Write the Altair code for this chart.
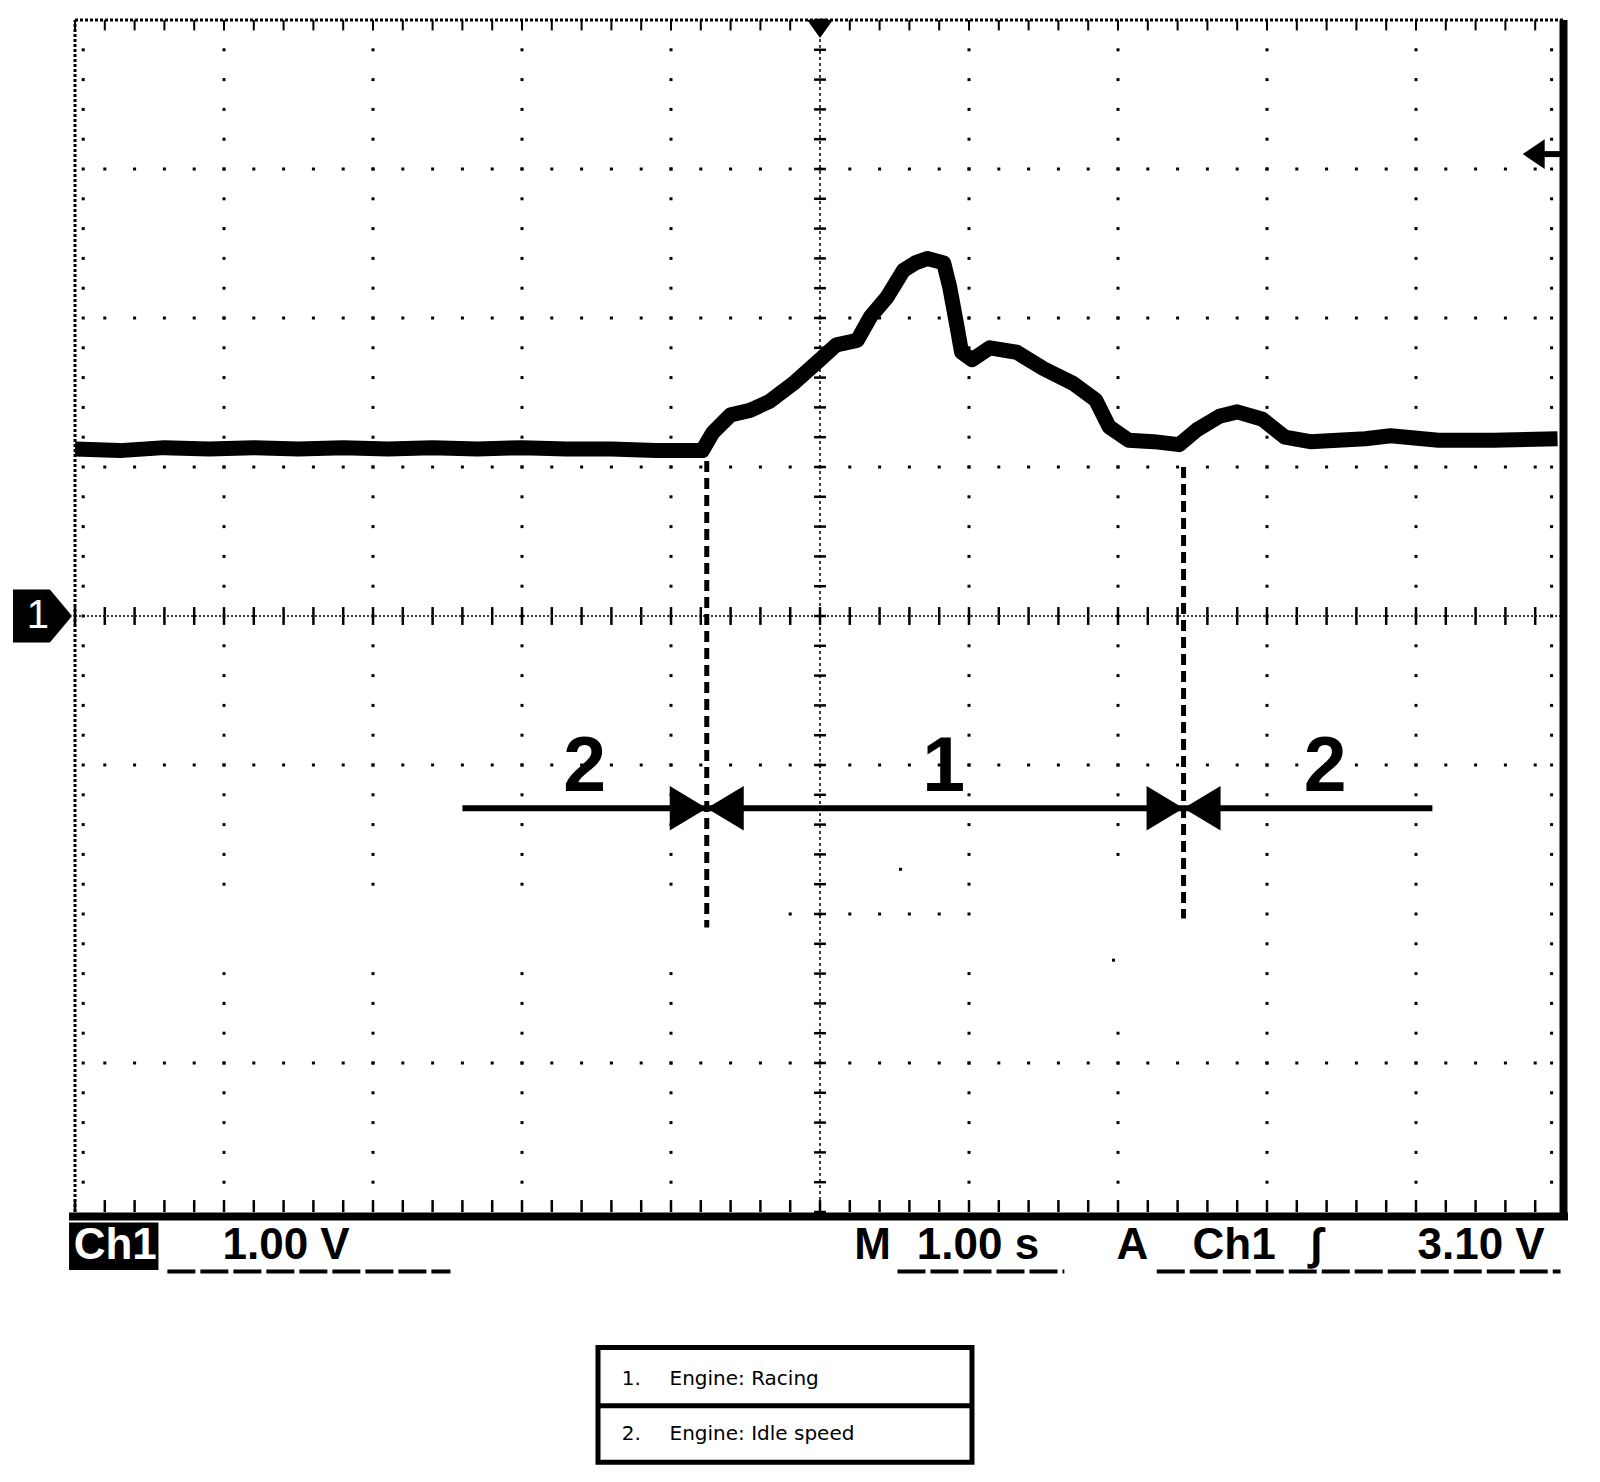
import altair as alt
import numpy as np
import pandas as pd

# Ch1 trace: time in divisions (1.00 s/div), level in volts (1.00 V/div)
trace_t = [0.0, 0.3, 0.6, 0.9, 1.2, 1.5, 1.8, 2.1, 2.4, 2.7, 3.0, 3.3, 3.6, 3.9, 4.21,
           4.28, 4.40, 4.53, 4.66, 4.82, 5.00, 5.11, 5.25, 5.34, 5.45, 5.56, 5.64, 5.72,
           5.83, 5.87, 5.92, 5.95, 6.02, 6.14, 6.32, 6.50, 6.70, 6.85, 6.94, 7.07, 7.24,
           7.41, 7.53, 7.68, 7.80, 7.97, 8.12, 8.29, 8.66, 8.83, 9.15, 9.52, 9.95]
trace_v = [1.12, 1.11, 1.13, 1.12, 1.13, 1.12, 1.13, 1.12, 1.13, 1.12, 1.13, 1.12, 1.12, 1.11, 1.11,
           1.23, 1.35, 1.38, 1.44, 1.56, 1.72, 1.82, 1.85, 2.01, 2.14, 2.32, 2.37, 2.40,
           2.37, 2.21, 1.94, 1.77, 1.72, 1.80, 1.77, 1.66, 1.56, 1.45, 1.27, 1.18, 1.17,
           1.15, 1.25, 1.34, 1.37, 1.32, 1.20, 1.17, 1.19, 1.21, 1.18, 1.18, 1.19]

# phase boundaries and labels
boundary_t = [4.24, 7.44]
boundary_top = [1.04, 1.0]
boundary_bottom = [-2.09, -2.03]
phase_labels = ["2", "1", "2"]
phase_label_t = [3.42, 5.83, 8.39]
arrow_span = [2.60, 9.11]

trigger_level = 3.10

legend_nums = ["1.", "2."]
legend_texts = ["Engine: Racing", "Engine: Idle speed"]

readout_texts = ["1.00 V", "M", "1.00 s", "A", "Ch1", "\u222b", "3.10 V"]
readout_t = [0.99, 5.23, 5.65, 6.99, 7.50, 8.29, 9.01]

XS = alt.Scale(domain=[0, 10], nice=False, zero=False)
YS = alt.Scale(domain=[-4, 4], nice=False, zero=False)


def X(f):
    return alt.X(f + ":Q", scale=XS, axis=None)


def Y(f):
    return alt.Y(f + ":Q", scale=YS, axis=None)


def rules(df, **kw):
    enc = {"x": X("t"), "y": Y("v")}
    if "t2" in df:
        enc["x2"] = alt.X2("t2:Q")
    if "v2" in df:
        enc["y2"] = alt.Y2("v2:Q")
    return alt.Chart(df).mark_rule(color="black", **kw).encode(**enc)


# graticule: dots every 0.2 div along each division line
steps_t = np.round(np.arange(0, 10.001, 0.2), 2)
steps_v = np.round(np.arange(-4, 4.001, 0.2), 2)
dots = []
for gx in [1, 2, 3, 4, 6, 7, 8, 9]:
    for v in steps_v[1:-1]:
        # part of the screen around the -2 V line is blanked in the original
        if v in (-2.0, -2.2) and gx <= 7:
            continue
        if gx == 7 and -2.6 <= v <= -1.8:
            continue
        dots.append((gx, v))
for gv in [-3, -1, 1, 2, 3]:
    dots += [(t, gv) for t in steps_t[1:-1]]
dots += [(t, -2.0) for t in steps_t if 4.75 < t < 6.05]
dots += [(6.97, -2.31), (5.54, -1.70)]
dots += [(0.055, v) for v in steps_v[1:-1]]
dots += [(9.91, v) for v in steps_v[1:-1]]
dots_df = pd.DataFrame(dots, columns=["t", "v"])
grid = alt.Chart(dots_df).mark_square(color="black", size=9, opacity=1).encode(x=X("t"), y=Y("v"))

center_h = rules(pd.DataFrame({"t": [0], "t2": [10], "v": [0]}), strokeWidth=1.5, strokeDash=[2, 2])
center_v = rules(pd.DataFrame({"t": [5], "v": [-4], "v2": [4]}), strokeWidth=1.5, strokeDash=[3, 3])
ticks_h = rules(pd.DataFrame({"t": steps_t, "v": -0.06, "v2": 0.06}), strokeWidth=2.5)
ticks_v = rules(pd.DataFrame({"t": 4.96, "t2": 5.04, "v": steps_v}), strokeWidth=2.5)
ticks_top = rules(pd.DataFrame({"t": steps_t, "v": 4.0, "v2": 3.93}), strokeWidth=2)
ticks_bot = rules(pd.DataFrame({"t": steps_t, "v": -4.0, "v2": -3.92}), strokeWidth=2.5)

border_top = rules(pd.DataFrame({"t": [0], "t2": [10], "v": [4]}), strokeWidth=3, strokeDash=[3, 2])
border_left = rules(pd.DataFrame({"t": [0], "v": [-4], "v2": [4]}), strokeWidth=3, strokeDash=[3, 2])
border_right = rules(pd.DataFrame({"t": [9.99], "v": [-4.03], "v2": [4]}), strokeWidth=8)
border_bot = rules(pd.DataFrame({"t": [-0.04], "t2": [10.02], "v": [-4.03]}), strokeWidth=8)

trace = alt.Chart(pd.DataFrame({"t": trace_t, "v": trace_v})).mark_line(
    color="black", strokeWidth=15, strokeJoin="round"
).encode(x=X("t"), y=Y("v"), order="t:Q")

# markers: ground level, trigger position, trigger level
ground = alt.Chart(pd.DataFrame({"t": [-0.218], "v": [0]})).mark_point(
    shape="M-1,-0.9 L0.25,-0.9 L1,0 L0.25,0.9 L-1,0.9 Z", size=3481,
    filled=True, color="black", opacity=1
).encode(x=X("t"), y=Y("v"))
ground_txt = alt.Chart(pd.DataFrame({"t": [-0.25], "v": [0], "s": ["1"]})).mark_text(
    color="white", font="Liberation Sans", fontSize=40, baseline="middle", align="center"
).encode(x=X("t"), y=Y("v"), text="s:N")
trig_pos = alt.Chart(pd.DataFrame({"t": [5], "v": [3.94]})).mark_point(
    shape="M-1,-0.7 L1,-0.7 L0,0.7 Z", size=676, filled=True, color="black", opacity=1
).encode(x=X("t"), y=Y("v"))
trig_head = alt.Chart(pd.DataFrame({"t": [9.79], "v": [trigger_level]})).mark_point(
    shape="M-1,0 L1,-1.36 L1,1.36 Z", size=484, filled=True, color="black", opacity=1
).encode(x=X("t"), y=Y("v"))
trig_shaft = rules(pd.DataFrame({"t": [9.8], "t2": [10], "v": [trigger_level]}), strokeWidth=6)

# phase annotations
bounds = rules(pd.DataFrame({"t": boundary_t, "v": boundary_top, "v2": boundary_bottom}),
               strokeWidth=5, strokeDash=[11, 6])
arrow_v = -1.29
arrow_line = rules(pd.DataFrame({"t": [arrow_span[0]], "t2": [arrow_span[1]], "v": [arrow_v]}), strokeWidth=6)
heads_r = alt.Chart(pd.DataFrame({"t": boundary_t, "v": arrow_v})).mark_point(
    shape="M0,0 L-2,-1.2 L-2,1.2 Z", size=1369, filled=True, color="black", opacity=1
).encode(x=X("t"), y=Y("v"))
heads_l = alt.Chart(pd.DataFrame({"t": boundary_t, "v": arrow_v})).mark_point(
    shape="M0,0 L2,-1.2 L2,1.2 Z", size=1369, filled=True, color="black", opacity=1
).encode(x=X("t"), y=Y("v"))
phase_txt = alt.Chart(pd.DataFrame({"t": phase_label_t, "v": -1.01, "s": phase_labels})).mark_text(
    color="black", font="Liberation Sans", fontSize=77, fontWeight="bold",
    baseline="middle", align="center", dy=2
).encode(x=X("t"), y=Y("v"), text="s:N")

# readout row under the screen
ch_box = alt.Chart(pd.DataFrame({"t": [-0.04], "t2": [0.56], "v": [-4.07], "v2": [-4.39]})).mark_rect(
    color="black"
).encode(x=X("t"), x2="t2:Q", y=Y("v"), y2="v2:Q")
ch_txt = alt.Chart(pd.DataFrame({"t": [0.27], "v": [-4.23], "s": ["Ch1"]})).mark_text(
    color="white", font="Liberation Sans", fontSize=44, fontWeight="bold", baseline="middle", align="center"
).encode(x=X("t"), y=Y("v"), text="s:N")
readout = alt.Chart(pd.DataFrame({"t": readout_t, "v": -4.23, "s": readout_texts})).mark_text(
    color="black", font="Liberation Sans", fontSize=44, fontWeight="bold", baseline="middle", align="left"
).encode(x=X("t"), y=Y("v"), text="s:N")
underline = rules(pd.DataFrame({"t": [0.62, 5.52, 7.26], "t2": [2.52, 6.64, 9.97], "v": -4.40}),
                  strokeWidth=4, strokeDash=[28, 5])

# key table
key_box = alt.Chart(pd.DataFrame({"t": [3.51], "t2": [6.02], "v": [-4.91], "v2": [-5.68]})).mark_rect(
    fill="white", stroke="black", strokeWidth=5
).encode(x=X("t"), x2="t2:Q", y=Y("v"), y2="v2:Q")
key_div = rules(pd.DataFrame({"t": [3.51], "t2": [6.02], "v": [-5.30]}), strokeWidth=5)
key_nums = alt.Chart(pd.DataFrame({"t": 3.67, "v": [-5.12, -5.49], "s": legend_nums})).mark_text(
    color="black", font="DejaVu Sans", fontSize=20, baseline="middle", align="left"
).encode(x=X("t"), y=Y("v"), text="s:N")
key_txt = alt.Chart(pd.DataFrame({"t": 3.99, "v": [-5.12, -5.49], "s": legend_texts})).mark_text(
    color="black", font="DejaVu Sans", fontSize=20, baseline="middle", align="left"
).encode(x=X("t"), y=Y("v"), text="s:N")

chart = alt.layer(
    grid, center_h, center_v, ticks_h, ticks_v, ticks_top, ticks_bot,
    border_top, border_left, border_right, border_bot,
    bounds, arrow_line, heads_r, heads_l, phase_txt,
    trace, ground, ground_txt, trig_pos, trig_head, trig_shaft,
    ch_box, ch_txt, readout, underline,
    key_box, key_div, key_nums, key_txt,
).properties(
    width=1490, height=1192,
    autosize=alt.AutoSizeParams(type="none"),
    padding={"left": 67, "top": 12, "right": 27, "bottom": 262},
).configure_view(stroke=None)

chart.save("out.html", embed_options={"renderer": "svg", "actions": False})
